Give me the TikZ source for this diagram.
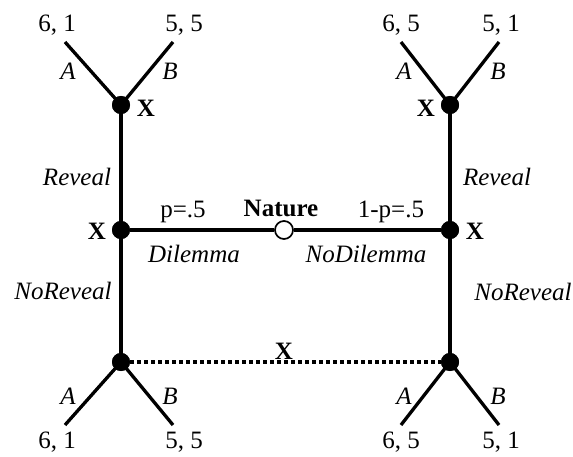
\documentclass[tikz,border=0pt]{standalone}
\usepackage{fontspec}
\setmainfont{Liberation Serif}
\usetikzlibrary{positioning}

\begin{document}
\begin{tikzpicture}[x=1pt, y=-1pt,
          every node/.style={font=\fontsize{25}{29}\selectfont, inner sep=0pt},
          dot/.style={circle, fill=black, minimum size=18pt},
          chance/.style={circle, draw=black, fill=white, line width=1.7pt, minimum size=18pt},
          edge/.style={line width=3.3pt},
          infoset/.style={line width=3.6pt, dash pattern=on 3.6pt off 3.4pt},
          act/.style={font=\fontsize{25}{29}\selectfont\itshape},
          plyr/.style={font=\fontsize{25}{29}\selectfont\bfseries},
          pay/.style={font=\fontsize{25}{29}\selectfont}
        ]
        \useasboundingbox (0,0) rectangle (573,457);
        % decision nodes
        \node[chance] (nature) at (284,230) {};
        \node[dot] (ml) at (121,230) {};
        \node[dot] (mr) at (450,230) {};
        \node[dot] (tl) at (121,105) {};
        \node[dot] (tr) at (450,105) {};
        \node[dot] (bl) at (121,362) {};
        \node[dot] (br) at (450,362) {};
        % branch ends
        \coordinate (tlA) at (65,42);
        \coordinate (tlB) at (173,42);
        \coordinate (trA) at (401,42);
        \coordinate (trB) at (499,42);
        \coordinate (blA) at (65,425);
        \coordinate (blB) at (173,425);
        \coordinate (brA) at (401,425);
        \coordinate (brB) at (499,425);
        % edges
        \draw[edge] (nature) -- (ml);
        \draw[edge] (nature) -- (mr);
        \draw[edge] (ml.center) -- (tl.center);
        \draw[edge] (ml.center) -- (bl.center);
        \draw[edge] (mr.center) -- (tr.center);
        \draw[edge] (mr.center) -- (br.center);
        \foreach \n in {tl,tr,bl,br} {
          \draw[edge] (\n.center) -- (\n A);
          \draw[edge] (\n.center) -- (\n B);
        }
        \draw[infoset] (bl) -- (br);
        \node[dot] at (ml) {};
        \node[dot] at (mr) {};
        \node[dot] at (tl) {};
        \node[dot] at (tr) {};
        \node[dot] at (bl) {};
        \node[dot] at (br) {};
        % players
        \node[plyr] (natlbl) at (281,208) {Nature};
        \node[plyr] (xtl) at (146,108) {X};
        \node[plyr] (xtr) at (426,108) {X};
        \node[plyr] (xml) at (97,231) {X};
        \node[plyr] (xmr) at (475,231) {X};
        \node[plyr] (xb) at (284,351) {X};
        % moves
        \node[pay] (pl) at (183,212) {p=.5};
        \node[pay] (pr) at (391,212) {1-p=.5};
        \node[act] (dil) at (194,254) {Dilemma};
        \node[act] (nodil) at (366,254) {NoDilemma};
        \node[act] (revl) at (77,177) {Reveal};
        \node[act] (revr) at (497,177) {Reveal};
        \node[act] (nrevl) at (63,291) {NoReveal};
        \node[act] (nrevr) at (523,292) {NoReveal};
        \foreach \n/\xa/\xb in {tl/68/170, tr/404/498} {
          \node[act] (\n la) at (\xa,71) {A};
          \node[act] (\n lb) at (\xb,71) {B};
        }
        \foreach \n/\xa/\xb in {bl/68/170, br/404/498} {
          \node[act] (\n la) at (\xa,396) {A};
          \node[act] (\n lb) at (\xb,396) {B};
        }
        % payoffs
        \node[pay] (ptlA) at (57,25) {6, 1};
        \node[pay] (ptlB) at (184,25) {5, 5};
        \node[pay] (ptrA) at (401,25) {6, 5};
        \node[pay] (ptrB) at (501,25) {5, 1};
        \node[pay] (pblA) at (57,442) {6, 1};
        \node[pay] (pblB) at (184,442) {5, 5};
        \node[pay] (pbrA) at (401,442) {6, 5};
        \node[pay] (pbrB) at (501,442) {5, 1};
      \end{tikzpicture}
\end{document}
